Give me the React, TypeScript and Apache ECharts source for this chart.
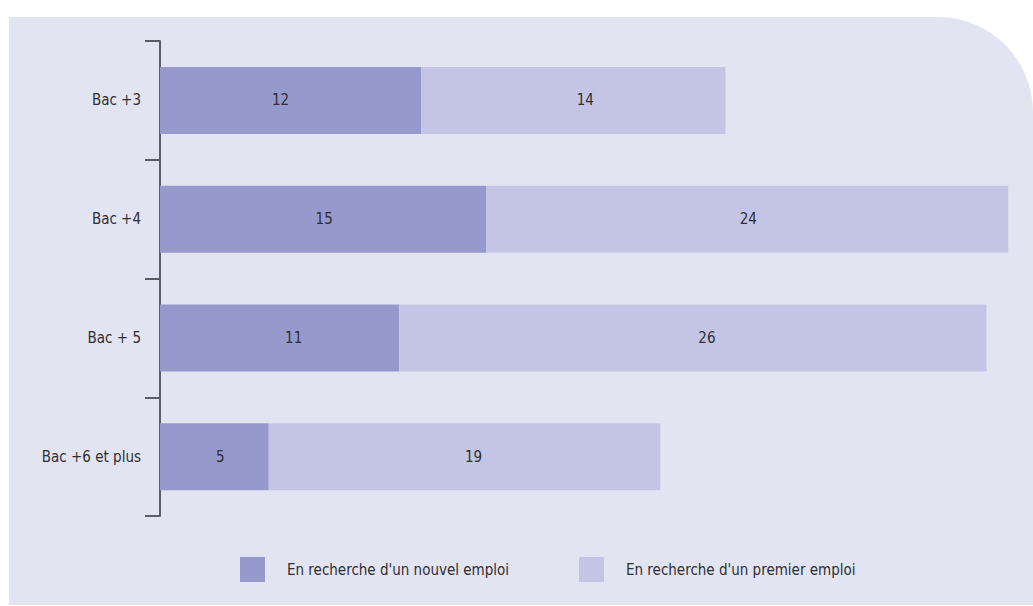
import React, { useEffect, useRef } from "react";
import * as echarts from "echarts";

const categories = ["Bac +3", "Bac +4", "Bac + 5", "Bac +6 et plus"];
const seriesNames = ["En recherche d'un nouvel emploi", "En recherche d'un premier emploi"];
// bar lengths as drawn in the picture
const newJob = [12, 15, 11, 5];
const firstJob = [14, 24, 27, 18];
// values printed on the bars
const newJobLabels = ["12", "15", "11", "5"];
const firstJobLabels = ["14", "24", "26", "19"];

// horizontal nudges of the printed values (styling only)
const newJobLabelShift = [-10, 1, 14, 6];
const firstJobLabelShift = [12, 1, 14, 9];

const FONT = "'DejaVu Sans Condensed', 'Open Sans', sans-serif";
const FS = 15;
const TEXT = "#2e2e33";

export default function App() {
  const ref = useRef<HTMLDivElement>(null);
  useEffect(() => {
    if (!ref.current) return;
    const chart = echarts.init(ref.current, null, { renderer: "svg" });
    const makeData = (vals: number[], labels: string[], shifts: number[]) =>
      vals.map((v, i) => ({
        value: v,
        label: { formatter: labels[i], offset: [shifts[i], 0] },
      }));
    const labelStyle = {
      show: true,
      position: "inside",
      color: TEXT,
      fontSize: FS,
      fontFamily: FONT,
    };
    const legendText = { color: TEXT, fontSize: FS, fontFamily: FONT, padding: [0, 0, 0, 17] };
    chart.setOption({
      animation: false,
      graphic: [
        {
          type: "rect",
          z: -100,
          silent: true,
          shape: { x: 9, y: 17, width: 1024, height: 588, r: [0, 95, 0, 0] },
          style: { fill: "#e3e4f2" },
        },
      ],
      grid: { left: 160, right: 3, top: 41, bottom: 90, containLabel: false },
      xAxis: { type: "value", min: 0, max: 40, show: false },
      yAxis: {
        type: "category",
        data: categories,
        inverse: true,
        axisLine: { show: true, lineStyle: { color: "#5c5c66", width: 2 } },
        axisTick: { show: true, length: 15, lineStyle: { color: "#5c5c66", width: 2 } },
        axisLabel: { margin: 19, color: TEXT, fontSize: FS, fontFamily: FONT },
        splitLine: { show: false },
      },
      legend: [
        {
          data: [seriesNames[0]],
          left: 235,
          top: 552,
          icon: "rect",
          itemWidth: 25,
          itemHeight: 25,
          textStyle: legendText,
        },
        {
          data: [seriesNames[1]],
          left: 574,
          top: 552,
          icon: "rect",
          itemWidth: 25,
          itemHeight: 25,
          textStyle: legendText,
        },
      ],
      series: [
        {
          name: seriesNames[0],
          type: "bar",
          stack: "total",
          barWidth: 67,
          data: makeData(newJob, newJobLabels, newJobLabelShift),
          itemStyle: { color: "#9599cc" },
          label: labelStyle,
        },
        {
          name: seriesNames[1],
          type: "bar",
          stack: "total",
          barWidth: 67,
          data: makeData(firstJob, firstJobLabels, firstJobLabelShift),
          itemStyle: { color: "#c4c5e4" },
          label: labelStyle,
        },
      ],
    });
    return () => chart.dispose();
  }, []);
  return (
    <div
      ref={ref}
      style={{ position: "fixed", left: 0, top: 0, width: 1033, height: 606, background: "#ffffff" }}
    />
  );
}
